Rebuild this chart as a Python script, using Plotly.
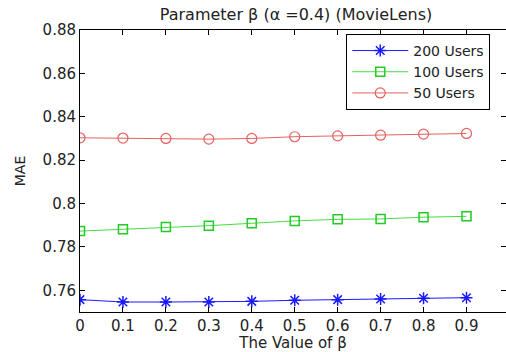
import plotly.graph_objects as go

beta = [0, 0.1, 0.2, 0.3, 0.4, 0.5, 0.6, 0.7, 0.8, 0.9]
mae_200 = [0.7557, 0.7546, 0.7546, 0.7546, 0.7549, 0.7554, 0.7557, 0.7560, 0.7563, 0.7566]
mae_100 = [0.7873, 0.7881, 0.7892, 0.7898, 0.7909, 0.7920, 0.7927, 0.7929, 0.7937, 0.7941]
mae_50 = [0.8303, 0.8302, 0.8300, 0.8297, 0.8300, 0.8308, 0.8312, 0.8315, 0.8320, 0.8323]
x_ticks = [0, 0.1, 0.2, 0.3, 0.4, 0.5, 0.6, 0.7, 0.8, 0.9]
x_labels = ["0", "0.1", "0.2", "0.3", "0.4", "0.5", "0.6", "0.7", "0.8", "0.9"]
y_ticks = [0.76, 0.78, 0.80, 0.82, 0.84, 0.86, 0.88]
y_labels = ["0.76", "0.78", "0.8", "0.82", "0.84", "0.86", "0.88"]

FONT = "DejaVu Sans"
fig = go.Figure()
fig.add_trace(go.Scatter(x=beta, y=mae_200, name="200 Users", mode="lines+markers",
                         line=dict(color="#1a1aff", width=1),
                         marker=dict(symbol="asterisk-open", size=10,
                                     line=dict(color="#1a1aff", width=1.5))))
fig.add_trace(go.Scatter(x=beta, y=mae_100, name="100 Users", mode="lines+markers",
                         line=dict(color="#44dd44", width=1),
                         marker=dict(symbol="square-open", size=9, color="#22cc22",
                                     line=dict(width=1.5))))
fig.add_trace(go.Scatter(x=beta, y=mae_50, name="50 Users", mode="lines+markers",
                         line=dict(color="#e66060", width=1),
                         marker=dict(symbol="circle-open", size=10, color="#e66060",
                                     line=dict(width=1.2))))

axis_common = dict(showline=True, linecolor="black", linewidth=1, mirror="ticks",
                   ticks="inside", ticklen=5, tickcolor="black", showgrid=False,
                   zeroline=False, tickfont=dict(family=FONT, size=15, color="#222"))
fig.update_xaxes(range=[0, 0.992], tickvals=x_ticks, ticktext=x_labels,
                 title=dict(text="The Value of β", font=dict(family=FONT, size=15, color="#222"),
                            standoff=1), **axis_common)
fig.update_yaxes(range=[0.75, 0.88], tickvals=y_ticks, ticktext=y_labels,
                 title=dict(text="MAE", font=dict(family=FONT, size=14, color="#222"),
                            standoff=13), **axis_common)
fig.update_layout(
    width=506, height=352,
    margin=dict(l=80, r=0, t=30, b=40),
    paper_bgcolor="white", plot_bgcolor="white",
    title=dict(text="Parameter β (α =0.4) (MovieLens)", x=0.585, xanchor="center",
               y=0.958, yanchor="middle", font=dict(family=FONT, size=16, color="#222")),
    legend=dict(x=0.625, y=0.986, xanchor="left", yanchor="top",
                bgcolor="white", bordercolor="black", borderwidth=1,
                font=dict(family=FONT, size=14, color="#222"), itemwidth=56,
                tracegroupgap=0),
    showlegend=True,
)
fig.write_html("out.html")
